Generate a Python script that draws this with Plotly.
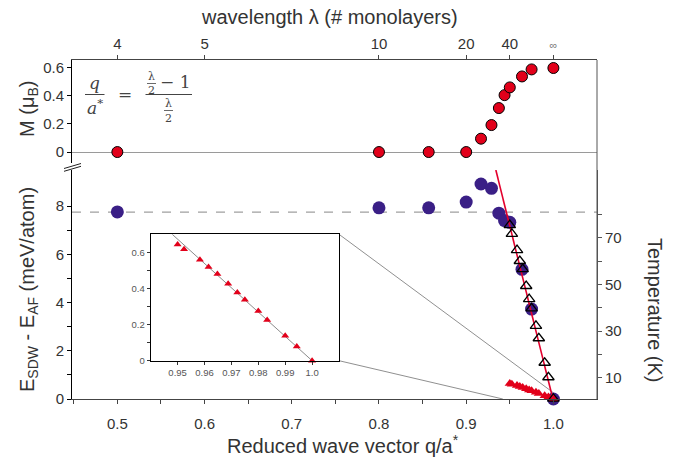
import plotly.graph_objects as go

# ---------------- data ----------------
# reduced wave vector q/a* of the computed SDW states (lambda = 4,10,14,20,24,28,32,36,40,56,80,inf)
q_states = [0.5, 0.8, 0.857, 0.9, 0.917, 0.929, 0.9375, 0.944, 0.95, 0.964, 0.975, 1.0]
moment = [0.0, 0.0, 0.0, 0.0, 0.095, 0.192, 0.313, 0.405, 0.46, 0.538, 0.588, 0.598]
energy = [7.76, 7.93, 7.93, 8.17, 8.92, 8.74, 7.71, 7.40, 7.33, 5.38, 3.73, 0.0]

# fine sampling near q = 1 (inset data, also shown in main panel)
q_fine = [0.95, 0.9524, 0.9583, 0.9615, 0.9648, 0.9688, 0.9722, 0.975, 0.98, 0.9833, 0.99, 0.9943, 1.0]
energy_fine = [0.644, 0.617, 0.559, 0.519, 0.480, 0.426, 0.377, 0.338, 0.275, 0.225, 0.138, 0.079, 0.0]
temperature = [75.4, 71.6, 64.7, 60.0, 56.5, 49.3, 43.7, 39.7, 32.2, 26.9, 16.4, 10.2, 1.0]

# linear fits
fit_q = [0.934, 1.0]
fit_T = [99.0, 0.0]
inset_fit_q = [0.948, 1.0]
inset_fit_E = [0.7, 0.0]

# reference energy of the AF-like (lambda=4) state
E_ref = 7.75

# axes ticks
x_ticks = [0.5, 0.6, 0.7, 0.8, 0.9, 1.0]
x_labels = ["0.5", "0.6", "0.7", "0.8", "0.9", "1.0"]
x_minor = [0.45, 0.55, 0.65, 0.75, 0.85, 0.95]
lambda_q = [0.5, 0.6, 0.8, 0.9, 0.95, 1.0]
lambda_labels = ["4", "5", "10", "20", "40", "<span style='font-size:11px;color:#777'>∞</span>"]
M_ticks = [0, 0.2, 0.4, 0.6]
M_labels = ["0", "0.2", "0.4", "0.6"]
E_ticks = [0, 2, 4, 6, 8]
E_labels = ["0", "2", "4", "6", "8"]
E_minor = [1, 3, 5, 7]
T_ticks = [10, 30, 50, 70]
T_labels = ["10", "30", "50", "70"]
T_minor = [20, 40, 60, 80]
inset_x_ticks = [0.95, 0.96, 0.97, 0.98, 0.99, 1.0]
inset_x_labels = ["0.95", "0.96", "0.97", "0.98", "0.99", "1.0"]
inset_y_ticks = [0, 0.2, 0.4, 0.6]
inset_y_labels = ["0", "0.2", "0.4", "0.6"]
inset_y_minor = [0.1, 0.3, 0.5]

# ---------------- layout geometry ----------------
W, H = 679, 461
ML, MR, MT, MB = 72, 82, 60, 62
PW, PH = W - ML - MR, H - MT - MB


def px(x):
    return (x - ML) / PW


def py(y):
    return (H - MB - y) / PH


X_RANGE = [0.448, 1.05]
M_RANGE = [-0.078, 0.655]
E_RANGE = [0.0, 9.5]
T_RANGE = [0.87, 99.0]
top_dom = [py(163), 1.0]
bot_dom = [0.0, py(170)]
inset_xdom = [px(150.7), px(339)]
inset_ydom = [py(360.7), py(234.3)]

RED = "#e2001a"
PURPLE = "#3a1f86"
FONT = "Liberation Sans, Arial, sans-serif"
TXT = "#333333"

fig = go.Figure()

# top panel: magnetic moment
fig.add_trace(go.Scatter(x=q_states, y=moment, mode="markers", xaxis="x2", yaxis="y",
                         marker=dict(size=11, color=RED, line=dict(color="black", width=1)),
                         cliponaxis=False, showlegend=False))

# bottom panel: energies
fig.add_trace(go.Scatter(x=q_states, y=energy, mode="markers", xaxis="x", yaxis="y2",
                         marker=dict(size=13, color=PURPLE, line=dict(width=0)),
                         cliponaxis=False, showlegend=False))
fig.add_trace(go.Scatter(x=q_fine, y=energy_fine, mode="markers", xaxis="x", yaxis="y2",
                         marker=dict(symbol="triangle-up", size=9, color=RED, line=dict(width=0)),
                         cliponaxis=False, showlegend=False))
# temperature axis traces
fig.add_trace(go.Scatter(x=fit_q, y=fit_T, mode="lines", xaxis="x", yaxis="y3",
                         line=dict(color="#e3002d", width=1.6), showlegend=False))
fig.add_trace(go.Scatter(x=q_fine, y=temperature, mode="markers", xaxis="x", yaxis="y3",
                         marker=dict(symbol="triangle-up-open", size=10, color="black",
                                     line=dict(color="black", width=1.3)),
                         cliponaxis=False, showlegend=False))

# inset
fig.add_trace(go.Scatter(x=inset_fit_q, y=inset_fit_E, mode="lines", xaxis="x3", yaxis="y4",
                         line=dict(color="#8a8a8a", width=1), showlegend=False))
fig.add_trace(go.Scatter(x=q_fine, y=energy_fine, mode="markers", xaxis="x3", yaxis="y4",
                         marker=dict(symbol="triangle-up", size=7, color=RED, line=dict(width=0)),
                         cliponaxis=False, showlegend=False))

tickfont = dict(family=FONT, size=15, color=TXT)
common = dict(showgrid=False, zeroline=False, showline=True, ticks="outside",
              ticklen=4, tickwidth=1, tickfont=tickfont)


def minor(vals, color, length=4):
    return dict(tickmode="array", tickvals=vals, ticks="outside", ticklen=length,
                tickwidth=1, tickcolor=color, showgrid=False)


fig.update_layout(
    width=W, height=H,
    margin=dict(l=ML, r=MR, t=MT, b=MB),
    paper_bgcolor="white", plot_bgcolor="white",
    showlegend=False,
    xaxis=dict(range=X_RANGE, domain=[0, 1], anchor="y2", tickvals=x_ticks, ticktext=x_labels,
               linecolor="#444", tickcolor="#444", ticklabelstandoff=7,
               minor=minor(x_minor, "#444"), **common),
    xaxis2=dict(range=X_RANGE, domain=[0, 1], side="top", anchor="y", tickvals=lambda_q,
                ticktext=lambda_labels, linecolor="#444", tickcolor="#444", **common),
    yaxis=dict(range=M_RANGE, domain=top_dom, anchor="x2", tickvals=M_ticks, ticktext=M_labels,
               showgrid=False, showline=True, ticks="outside", ticklen=4, tickfont=tickfont,
               linecolor="black", tickcolor="black",
               zeroline=True, zerolinecolor="#9a9a9a", zerolinewidth=1),
    yaxis2=dict(range=E_RANGE, domain=bot_dom, anchor="x", tickvals=E_ticks, ticktext=E_labels,
                linecolor="black", tickcolor="black", minor=minor(E_minor, "black"), **common),
    yaxis3=dict(range=T_RANGE, overlaying="y2", side="right", anchor="x", tickvals=T_ticks,
                ticktext=T_labels, linecolor="#555", tickcolor="#555",
                minor=minor(T_minor, "#555"), **common),
    xaxis3=dict(range=[0.94, 1.01], domain=inset_xdom, anchor="y4", tickvals=inset_x_ticks,
                ticktext=inset_x_labels, showgrid=False, zeroline=False, showline=True,
                mirror=True, linecolor="black", ticks="outside", ticklen=3, tickcolor="#333",
                tickfont=dict(family=FONT, size=9.5, color="#555")),
    yaxis4=dict(range=[0, 0.7], domain=inset_ydom, anchor="x3", tickvals=inset_y_ticks,
                ticktext=inset_y_labels, showgrid=False, zeroline=False, showline=True,
                mirror=True, linecolor="black", ticks="outside", ticklen=3, tickcolor="#333",
                minor=minor(inset_y_minor, "#333", 3),
                tickfont=dict(family=FONT, size=9.5, color="#555")),
)


# helpers converting main-panel data coords to paper coords
def qx(q):
    return (q - X_RANGE[0]) / (X_RANGE[1] - X_RANGE[0])


def ey(e):
    return bot_dom[0] + (e - E_RANGE[0]) / (E_RANGE[1] - E_RANGE[0]) * (bot_dom[1] - bot_dom[0])


shapes = []
# reference dashed line
shapes.append(dict(type="line", xref="paper", yref="y2", x0=0, x1=1, y0=E_ref, y1=E_ref,
                   line=dict(color="#a0a0a0", width=1.2, dash="dash"), layer="below"))
# right frame
shapes.append(dict(type="line", xref="paper", yref="paper", x0=1, x1=1, y0=0, y1=1,
                   line=dict(color="#555", width=1)))
# inset connector lines
connector_targets = [(1.0, 0.26), (0.942, 0.0)]
shapes.append(dict(type="line", xref="paper", yref="paper",
                   x0=inset_xdom[1], y0=inset_ydom[1],
                   x1=qx(connector_targets[0][0]), y1=ey(connector_targets[0][1]),
                   line=dict(color="#909090", width=1), layer="below"))
shapes.append(dict(type="line", xref="paper", yref="paper",
                   x0=inset_xdom[1], y0=inset_ydom[0],
                   x1=qx(connector_targets[1][0]), y1=ey(connector_targets[1][1]),
                   line=dict(color="#909090", width=1), layer="below"))
# axis break marks
shapes.append(dict(type="line", xref="paper", yref="paper", x0=px(64), y0=py(168.5),
                   x1=px(81), y1=py(163.5), line=dict(color="#222", width=1)))
shapes.append(dict(type="line", xref="paper", yref="paper", x0=px(64), y0=py(171.3),
                   x1=px(81), y1=py(166.3), line=dict(color="#222", width=1)))

# formula fraction bars
FC = "#444"
shapes.append(dict(type="line", xref="paper", yref="paper", x0=px(85), x1=px(104.5),
                   y0=py(94.5), y1=py(94.5), line=dict(color=FC, width=1)))
shapes.append(dict(type="line", xref="paper", yref="paper", x0=px(145.5), x1=px(192),
                   y0=py(94.5), y1=py(94.5), line=dict(color=FC, width=1)))
shapes.append(dict(type="line", xref="paper", yref="paper", x0=px(147), x1=px(156),
                   y0=py(83.5), y1=py(83.5), line=dict(color=FC, width=0.8)))
shapes.append(dict(type="line", xref="paper", yref="paper", x0=px(164), x1=px(173),
                   y0=py(110.5), y1=py(110.5), line=dict(color=FC, width=0.8)))
fig.update_layout(shapes=shapes)

SERIF = "DejaVu Serif, Liberation Serif, serif"
ann = []


def text(x, y, s, size, color=TXT, family=FONT, angle=0):
    ann.append(dict(x=px(x), y=py(y), xref="paper", yref="paper", text=s, showarrow=False,
                    textangle=angle, xanchor="center", yanchor="middle",
                    font=dict(family=family, size=size, color=color)))


# axis titles
text(329, 17, "wavelength λ (# monolayers)", 20)
text(343, 444, "Reduced wave vector q/a<sup>*</sup>", 20)
text(28, 109, "M (μ<sub>B</sub>)", 20, angle=-90)
text(28, 290, "E<sub>SDW</sub> - E<sub>AF</sub> (meV/atom)", 20, angle=-90)
text(655, 310, "Temperature (K)", 20, angle=90)

# formula
text(94.5, 83, "<i>q</i>", 17, FC, SERIF)
text(95, 106.5, "<i>a</i><sup>*</sup>", 17, FC, SERIF)
text(125, 94, "=", 17, FC, SERIF)
text(151.5, 76, "λ", 11, FC, SERIF)
text(151.5, 90, "2", 11, FC, SERIF)
text(175, 82, "− 1", 17, FC, SERIF)
text(168.5, 103, "λ", 11, FC, SERIF)
text(168.5, 118, "2", 11, FC, SERIF)
fig.update_layout(annotations=ann)

fig.write_html("out.html", config={"displayModeBar": False},
               post_script="document.body.style.margin='0px';document.body.style.padding='0px';")
